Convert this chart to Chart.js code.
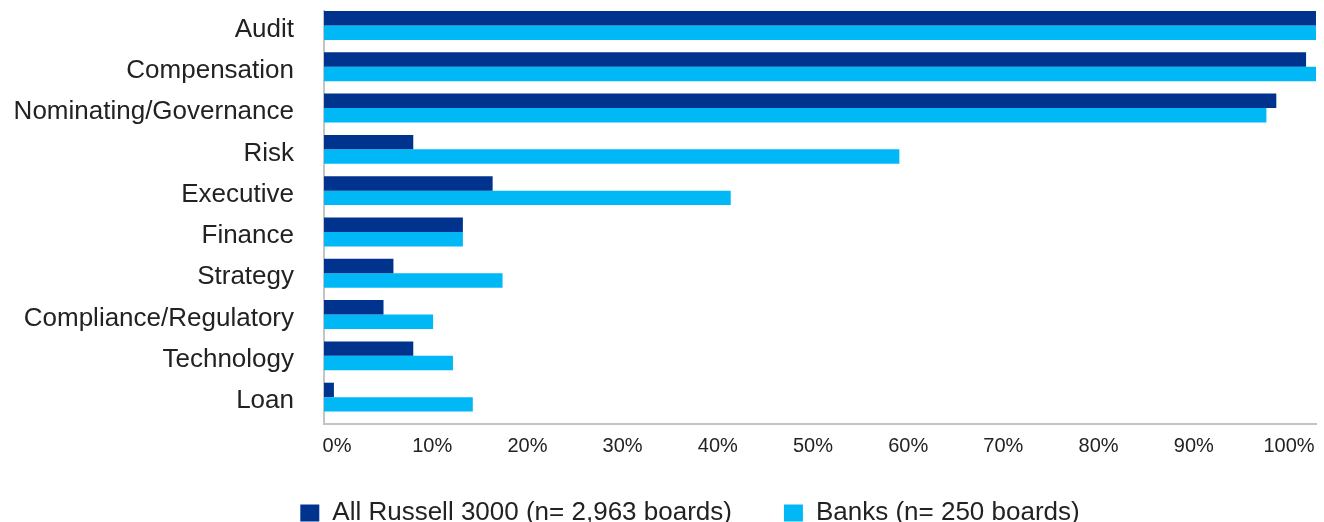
<!DOCTYPE html>
<html>
<head>
<meta charset="utf-8">
<script src="https://cdn.jsdelivr.net/npm/chart.js@4"></script>
<style>
  html, body { margin: 0; padding: 0; background: #fff; overflow: hidden; }
  #wrap { width: 1324px; height: 522px; position: relative; }
</style>
</head>
<body>
<div id="wrap"><canvas id="chart"></canvas></div>
<script>
const categories = ['Audit', 'Compensation', 'Nominating/Governance', 'Risk', 'Executive',
  'Finance', 'Strategy', 'Compliance/Regulatory', 'Technology', 'Loan'];
const russell = [100, 99, 96, 9, 17, 14, 7, 6, 9, 1];
const banks = [100, 100, 95, 58, 41, 14, 18, 11, 13, 15];
const tickValues = [0, 10, 20, 30, 40, 50, 60, 70, 80, 90, 100];
const seriesNames = ['All Russell 3000 (n= 2,963 boards)', 'Banks (n= 250 boards)'];

const textColor = '#222';
const axisColor = '#c4c4c4';

function toPoints(values) {
  return values.map((v, i) => ({ x: v, y: i }));
}

// the legend in the original sits lower and a bit right of centre
const legendNudge = {
  id: 'legendNudge',
  afterLayout(chart) {
    const lg = chart.legend;
    lg.left += 32; lg.right += 32;
    lg.top -= 14; lg.height += 14;
  }
};

const ctx = document.getElementById('chart').getContext('2d');
new Chart(ctx, {
  type: 'bar',
  data: {
    datasets: [
      {
        label: seriesNames[0],
        data: toPoints(russell),
        backgroundColor: '#00338d',
        categoryPercentage: 0.7,
        barPercentage: 1
      },
      {
        label: seriesNames[1],
        data: toPoints(banks),
        backgroundColor: '#00b8f5',
        categoryPercentage: 0.7,
        barPercentage: 1
      }
    ]
  },
  plugins: [legendNudge],
  options: {
    indexAxis: 'y',
    responsive: true,
    maintainAspectRatio: false,
    animation: false,
    layout: { padding: { top: 11, right: 8, left: 0, bottom: 0 } },
    scales: {
      x: {
        type: 'linear',
        min: 0,
        max: 100,
        display: false
      },
      // label axis: the original's tick labels sit a little inside the bar range
      xl: {
        type: 'linear',
        position: 'bottom',
        axis: 'x',
        min: -1.37,
        max: 102.84,
        grid: { display: false, drawTicks: false },
        border: { color: axisColor, width: 2 },
        afterBuildTicks: (scale) => {
          scale.ticks = tickValues.map(v => ({ value: v }));
        },
        afterFit: (scale) => {
          scale.height = 38;
          scale.paddingLeft = 0;
          scale.paddingRight = 0;
        },
        ticks: {
          color: textColor,
          padding: 10,
          font: { family: 'Liberation Sans', size: 20 },
          callback: (v) => v + '%'
        }
      },
      y: {
        type: 'linear',
        reverse: true,
        offset: false,
        min: -0.35,
        max: 9.65,
        grid: { display: false, drawTicks: false },
        border: { color: axisColor, width: 2 },
        afterBuildTicks: (scale) => {
          scale.ticks = categories.map((c, i) => ({ value: i }));
        },
        afterFit: (scale) => {
          scale.width = 324;
          scale.paddingTop = 0;
          scale.paddingBottom = 0;
        },
        ticks: {
          color: textColor,
          padding: 30,
          labelOffset: 4,
          font: { family: 'Liberation Sans', size: 26 },
          callback: (v) => categories[v]
        }
      }
    },
    plugins: {
      legend: {
        position: 'bottom',
        maxHeight: 60,
        labels: {
          color: textColor,
          boxWidth: 19,
          boxHeight: 17,
          padding: 52,
          font: { family: 'Liberation Sans', size: 26 }
        }
      },
      tooltip: { enabled: false }
    }
  }
});
</script>
</body>
</html>
